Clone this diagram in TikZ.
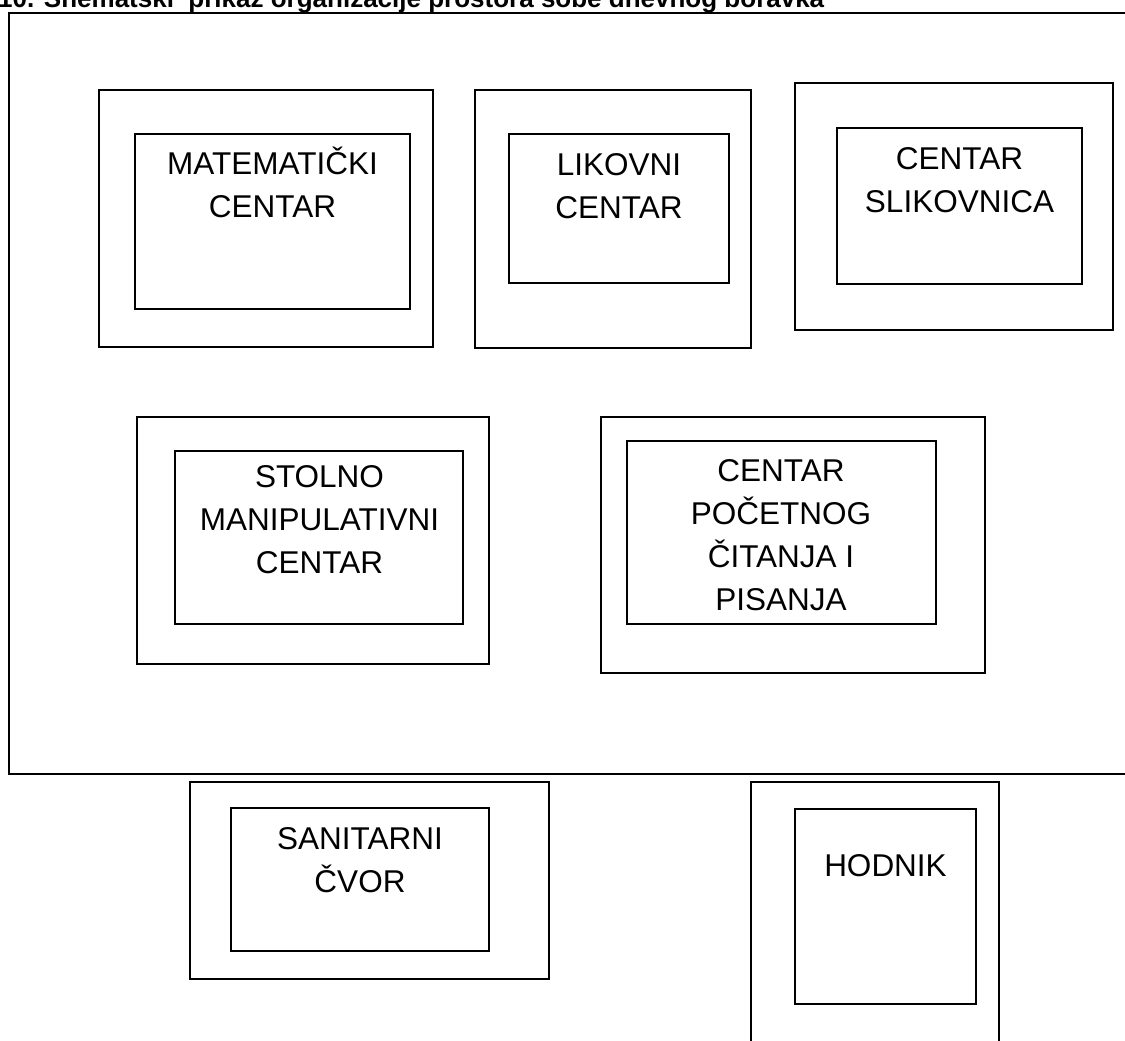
\documentclass[tikz,border=0pt]{standalone}
\usepackage{fontspec}
\setmainfont{Liberation Sans}
\begin{document}
\begin{tikzpicture}[x=1pt,y=-1pt]
\tikzset{
  box/.style={draw=black, line width=1.4pt},
  room/.style={draw=black, line width=2pt},
  lbl/.style={anchor=north, inner sep=0pt, align=center, font=\fontsize{31.5}{43}\selectfont},
  ttl/.style={anchor=base west, inner sep=0pt, font=\bfseries\fontsize{26}{30}\selectfont}
}
\useasboundingbox (0,0) rectangle (1125,1041);
% title (cut at the top edge)
\node[ttl] (title) at (-2,7.5) {10. Shematski\ \ prikaz organizacije prostora sobe dnevnog boravka};
% room outline (right side beyond the picture)
\draw[room] (1135,13) -- (9,13) -- (9,774) -- (1135,774);
% Matematički centar
\draw[box] (99,90) rectangle (433,347);
\draw[box] (135,134) rectangle (410,309);
\node[lbl] (mat) at (272.5,143.9) {\strut MATEMATIČKI\\CENTAR};
% Likovni centar
\draw[box] (475,90) rectangle (751,348);
\draw[box] (509,134) rectangle (729,283);
\node[lbl] (lik) at (619,144.9) {\strut LIKOVNI\\CENTAR};
% Centar slikovnica
\draw[box] (795,83) rectangle (1113,330);
\draw[box] (837,128) rectangle (1082,284);
\node[lbl] (slik) at (959.5,138.9) {\strut CENTAR\\SLIKOVNICA};
% Stolno manipulativni centar
\draw[box] (137,417) rectangle (489,664);
\draw[box] (175,451) rectangle (463,624);
\node[lbl] (stol) at (319.5,456.9) {\strut STOLNO\\MANIPULATIVNI\\CENTAR};
% Centar početnog čitanja i pisanja
\draw[box] (601,417) rectangle (985,673);
\draw[box] (627,441) rectangle (936,624);
\node[lbl] (poc) at (781,450.9) {\strut CENTAR\\POČETNOG\\ČITANJA I\\PISANJA};
% Sanitarni čvor
\draw[box] (190,782) rectangle (549,979);
\draw[box] (231,808) rectangle (489,951);
\node[lbl] (san) at (360,818.9) {\strut SANITARNI\\ČVOR};
% Hodnik
\draw[box] (751,1050) -- (751,782) -- (999,782) -- (999,1050);
\draw[box] (795,809) rectangle (976,1004);
\node[lbl] (hod) at (885.5,845.9) {\strut HODNIK};
\end{tikzpicture}
\end{document}
